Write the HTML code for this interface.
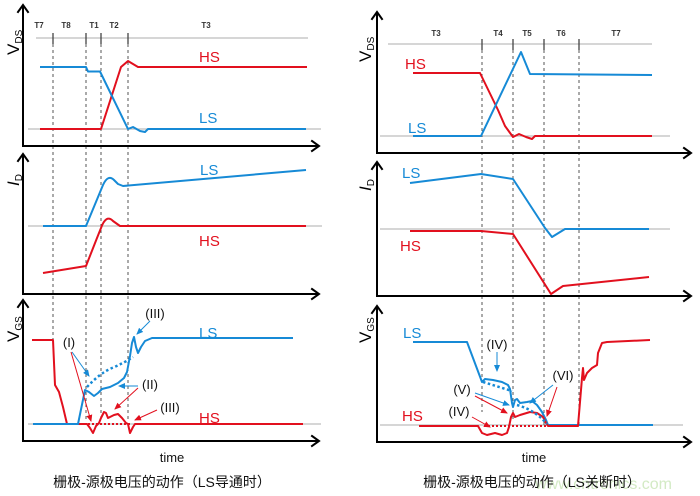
<!DOCTYPE html>
<html><head><meta charset="utf-8"><style>
html,body{margin:0;padding:0;background:#fff;}
svg{display:block;}
text{font-family:"Liberation Sans","Noto Sans CJK SC",sans-serif;}
</style></head><body>
<svg width="700" height="496" viewBox="0 0 700 496" xmlns="http://www.w3.org/2000/svg">
<defs>
<marker id="ab" markerWidth="8" markerHeight="8" refX="6" refY="3" orient="auto" markerUnits="userSpaceOnUse"><path d="M0,0 L7,3 L0,6 z" fill="#168ad6"/></marker>
<marker id="ar" markerWidth="8" markerHeight="8" refX="6" refY="3" orient="auto" markerUnits="userSpaceOnUse"><path d="M0,0 L7,3 L0,6 z" fill="#e2101e"/></marker>
</defs>
<rect width="700" height="496" fill="#fff"/>

<!-- grey reference lines -->
<g stroke="#bdbdbd" stroke-width="1.2" fill="none">
<line x1="36" y1="38" x2="308" y2="38"/>
<line x1="28" y1="129" x2="321" y2="129"/>
<line x1="28" y1="226" x2="322" y2="226"/>
<line x1="28" y1="424" x2="321" y2="424"/>
<line x1="388" y1="44" x2="652" y2="44"/>
<line x1="380" y1="136" x2="670" y2="136"/>
<line x1="380" y1="229" x2="670" y2="229"/>
<line x1="380" y1="425" x2="683" y2="425"/>
</g>

<!-- dashed verticals -->
<g stroke="#555" stroke-width="1" stroke-dasharray="3,3" fill="none">
<line x1="53" y1="38" x2="53" y2="340"/>
<line x1="86" y1="38" x2="86" y2="420"/>
<line x1="101" y1="38" x2="101" y2="420"/>
<line x1="128" y1="38" x2="128" y2="420"/>
<line x1="482" y1="44" x2="482" y2="412"/>
<line x1="513" y1="44" x2="513" y2="420"/>
<line x1="544" y1="44" x2="544" y2="425"/>
<line x1="579" y1="44" x2="579" y2="425"/>
</g>
<!-- ticks -->
<g stroke="#444" stroke-width="1.3">
<line x1="53" y1="33" x2="53" y2="44"/><line x1="86" y1="33" x2="86" y2="44"/>
<line x1="101" y1="33" x2="101" y2="44"/><line x1="128" y1="33" x2="128" y2="44"/>
<line x1="482" y1="39" x2="482" y2="50"/><line x1="513" y1="39" x2="513" y2="50"/>
<line x1="544" y1="39" x2="544" y2="50"/><line x1="579" y1="39" x2="579" y2="50"/>
</g>
<g font-size="8" font-weight="bold" fill="#333" text-anchor="middle">
<text x="39" y="28">T7</text><text x="66" y="28">T8</text><text x="94" y="28">T1</text><text x="114" y="28">T2</text><text x="206" y="28">T3</text>
<text x="436" y="36">T3</text><text x="498" y="36">T4</text><text x="527" y="36">T5</text><text x="561" y="36">T6</text><text x="616" y="36">T7</text>
</g>

<!-- axes -->
<g stroke="#000" stroke-width="2" fill="none" stroke-linecap="square">
<path d="M23,6 L23,146 L318,146"/><path d="M18,12 L23,5 L28,12"/><path d="M312,141 L319,146 L312,151"/>
<path d="M23,155 L23,294 L318,294"/><path d="M18,161 L23,154 L28,161"/><path d="M312,289 L319,294 L312,299"/>
<path d="M23,301 L23,441 L318,441"/><path d="M18,307 L23,300 L28,307"/><path d="M312,436 L319,441 L312,446"/>
<path d="M377,13 L377,153 L690,153"/><path d="M372,19 L377,12 L382,19"/><path d="M684,148 L691,153 L684,158"/>
<path d="M377,163 L377,296 L690,296"/><path d="M372,169 L377,162 L382,169"/><path d="M684,291 L691,296 L684,301"/>
<path d="M377,307 L377,442 L690,442"/><path d="M372,313 L377,306 L382,313"/><path d="M684,437 L691,442 L684,447"/>
</g>

<!-- y labels -->
<g font-size="17" fill="#000">
<text transform="translate(19,55) rotate(-90)">V<tspan font-size="10" dy="3">DS</tspan></text>
<text transform="translate(19,186) rotate(-90)" font-style="italic">I<tspan font-size="10" dy="3" font-style="normal">D</tspan></text>
<text transform="translate(19,342) rotate(-90)">V<tspan font-size="10" dy="3">GS</tspan></text>
<text transform="translate(371,62) rotate(-90)">V<tspan font-size="10" dy="3">DS</tspan></text>
<text transform="translate(371,191) rotate(-90)" font-style="italic">I<tspan font-size="10" dy="3" font-style="normal">D</tspan></text>
<text transform="translate(371,343) rotate(-90)">V<tspan font-size="10" dy="3">GS</tspan></text>
</g>

<!-- LEFT series -->
<g fill="none" stroke-width="2" stroke-linejoin="round">
<path stroke="#e2101e" d="M40,129 L101,129 L121,67 L128,61 L138,67 L307,67"/>
<path stroke="#168ad6" d="M40,67 L86,67 L88,71.5 L100,71.5 L128,129 L133,127 L140,131 L145,132 L148,129 L306,129"/>
<path stroke="#168ad6" d="M43,226 L86,226 L103,185 Q108,174 114,180 L118,184 L123,186 L306,170"/>
<path stroke="#e2101e" d="M43,273 L86,266 L97,238 L101,228 Q106,214 113,221 L120,226 L306,226"/>
<path stroke="#e2101e" d="M32,340 L53,340 L55,385 L59,392 L63,407 L67,424 L87,424 L90,428 L93,433 L96,426 L99,423 L101,418 L104,412 L106,413 L108,418 L110,417 L114,415 L118,414 L122,418 L126,423 L128,424 L130,433 L133,427 L135,424 L303,424"/>
<path stroke="#168ad6" d="M33,424 L78,424 L85,390 L89,392 L94,396 L98,393 L102,389 L110,387 L118,383 L124,378 L127,372 L130,356 L132,343 L134,337 L136,347 L138,353 L141,347 L145,341 L152,338 L293,338"/>
<path stroke="#e2101e" stroke-dasharray="2,2" d="M88,424 L130,424"/>
<path stroke="#168ad6" stroke-width="2.5" stroke-dasharray="2.5,2.5" d="M87,387 Q100,373 112,368 T133,357"/>
</g>

<!-- RIGHT series -->
<g fill="none" stroke-width="2" stroke-linejoin="round">
<path stroke="#e2101e" d="M413,73 L480,73 L498,110 L505,126 L513,137 L519,134 L526,137 L532,139 L535,136 L652,136"/>
<path stroke="#168ad6" d="M413,136 L481,136 L521,52 L530,74 L652,75"/>
<path stroke="#168ad6" d="M410,183 L481,174 L513,179 L545,228 L552,237 L565,229 L649,229"/>
<path stroke="#e2101e" d="M410,231 L481,231 L513,234 L551,294 L563,286 L649,277"/>
<path stroke="#168ad6" d="M413,342 L467,342 L482,382 L485,379 L493,380 L502,382 L508,385 L510,389 L512,403 L513,407 L515,400 L517,399 L520,403 L527,402 L532,401 L537,405 L542,412 L546,420 L548,425 L653,425"/>
<path stroke="#e2101e" d="M419,426 L478,426 L482,433 L487,435 L495,433 L502,435 L507,433 L509,427 L511,417 L513,413 L515,417 L520,415 L530,412 L537,413 L543,417 L546,423 L548,426 L578,426 L582,378 L583,368 L584,380 L587,373 L592,368 L597,365 L598,353 L602,343 L607,342 L650,340"/>
<path stroke="#e2101e" stroke-dasharray="2,2" d="M484,426 L546,426"/>
<path stroke="#168ad6" stroke-width="2.5" stroke-dasharray="2.5,2.5" d="M483,382 L512,391 M517,405 Q535,410 547,424"/>
</g>

<!-- annotation arrows -->
<g stroke-width="1" fill="none">
<line stroke="#168ad6" x1="150" y1="321" x2="137" y2="334" marker-end="url(#ab)"/>
<line stroke="#168ad6" x1="72" y1="352" x2="89" y2="376" marker-end="url(#ab)"/>
<line stroke="#e2101e" x1="71" y1="352" x2="91" y2="421" marker-end="url(#ar)"/>
<line stroke="#168ad6" x1="138" y1="386" x2="119" y2="386" marker-end="url(#ab)"/>
<line stroke="#e2101e" x1="138" y1="388" x2="115" y2="409" marker-end="url(#ar)"/>
<line stroke="#e2101e" x1="157" y1="410" x2="135" y2="420" marker-end="url(#ar)"/>
<line stroke="#168ad6" x1="497" y1="352" x2="497" y2="371" marker-end="url(#ab)"/>
<line stroke="#168ad6" x1="475" y1="393" x2="509" y2="405" marker-end="url(#ab)"/>
<line stroke="#e2101e" x1="475" y1="396" x2="507" y2="413" marker-end="url(#ar)"/>
<line stroke="#e2101e" x1="472" y1="417" x2="490" y2="427" marker-end="url(#ar)"/>
<line stroke="#168ad6" x1="553" y1="385" x2="530" y2="403" marker-end="url(#ab)"/>
<line stroke="#e2101e" x1="557" y1="387" x2="547" y2="416" marker-end="url(#ar)"/>
</g>
<g font-size="13" fill="#111" text-anchor="middle">
<text x="155" y="318">(III)</text>
<text x="69" y="347">(I)</text>
<text x="150" y="389">(II)</text>
<text x="170" y="412">(III)</text>
<text x="497" y="349">(IV)</text>
<text x="462" y="394">(V)</text>
<text x="459" y="416">(IV)</text>
<text x="563" y="380">(VI)</text>
</g>

<!-- series labels -->
<g font-size="15">
<text x="199" y="62" fill="#e2101e">HS</text>
<text x="199" y="123" fill="#168ad6">LS</text>
<text x="200" y="175" fill="#168ad6">LS</text>
<text x="199" y="246" fill="#e2101e">HS</text>
<text x="199" y="338" fill="#168ad6">LS</text>
<text x="199" y="423" fill="#e2101e">HS</text>
<text x="405" y="69" fill="#e2101e">HS</text>
<text x="408" y="133" fill="#168ad6">LS</text>
<text x="402" y="178" fill="#168ad6">LS</text>
<text x="400" y="251" fill="#e2101e">HS</text>
<text x="403" y="338" fill="#168ad6">LS</text>
<text x="402" y="421" fill="#e2101e">HS</text>
</g>

<g font-size="13" fill="#111" text-anchor="middle">
<text x="172" y="462">time</text>
<text x="534" y="462">time</text>
</g>
<text x="672" y="489" font-size="16" fill="#d3eac4" text-anchor="end">www.cntronics.com</text>
<g font-size="14" fill="#111" text-anchor="middle">
<text x="162" y="487">栅极-源极电压的动作（LS导通时）</text>
<text x="532" y="487">栅极-源极电压的动作（LS关断时）</text>
</g>
</svg>
</body></html>
